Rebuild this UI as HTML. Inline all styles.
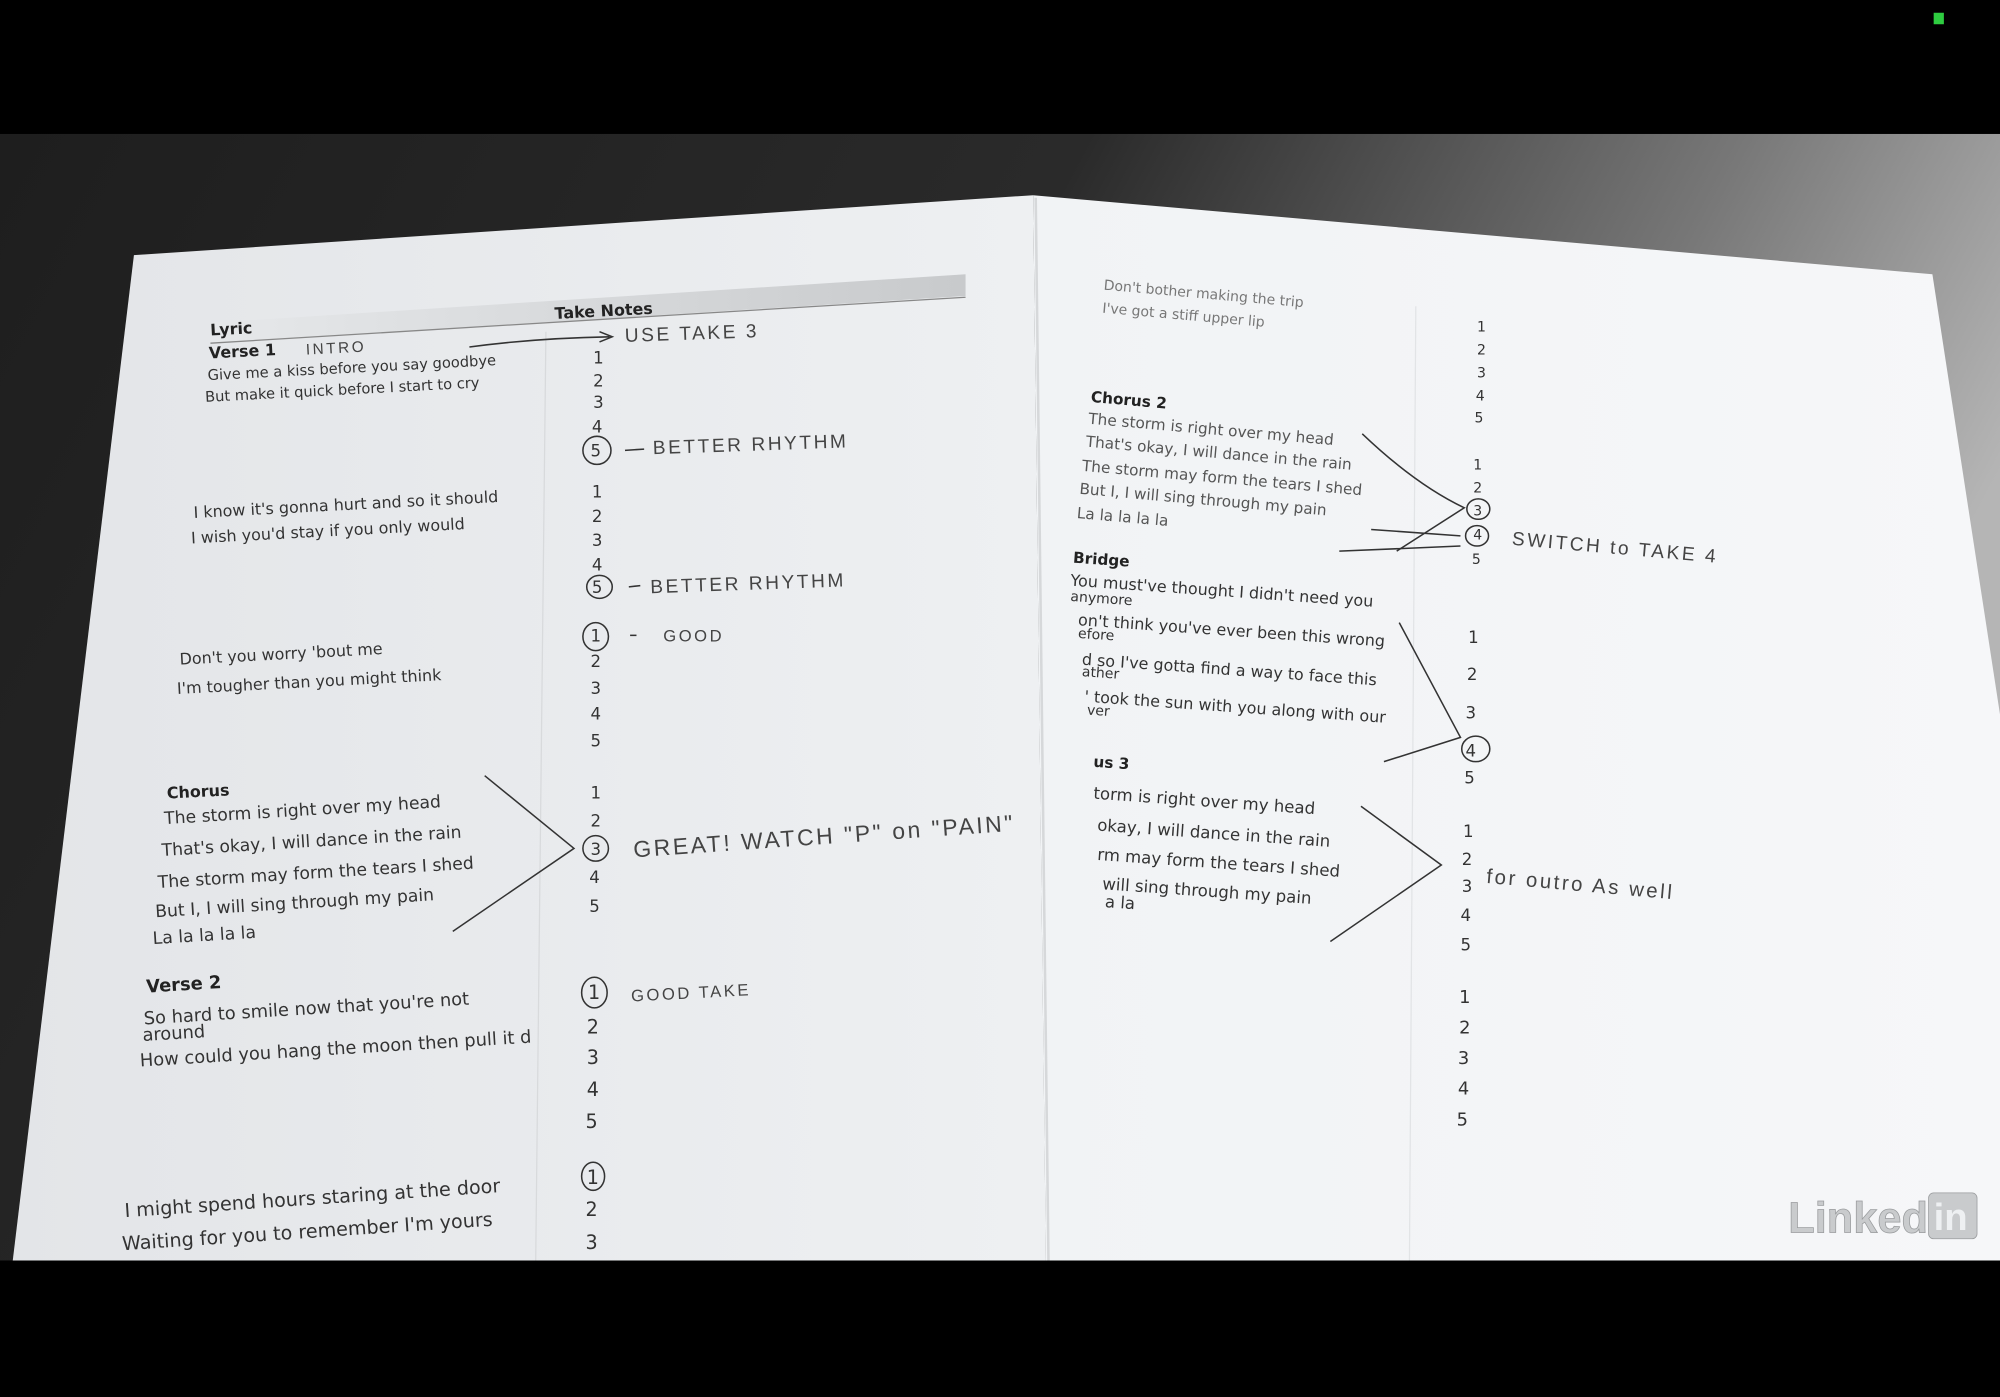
<!DOCTYPE html>
<html><head><meta charset="utf-8"><style>
html,body{margin:0;padding:0;background:#000;}
svg{display:block;}
.t{font-family:"DejaVu Sans","Liberation Sans",sans-serif;font-size:12.5px;fill:#333;}
.b{font-weight:bold;fill:#222;}
.n{font-family:"DejaVu Sans","Liberation Sans",sans-serif;font-size:13px;fill:#333;}
.h{font-family:"Liberation Sans",sans-serif;font-size:15px;fill:#444;letter-spacing:2px;}
.hl{fill:none;stroke:#333;stroke-width:1.2;}
</style></head><body>
<svg width="2000" height="1397" viewBox="0 0 1568 1095" preserveAspectRatio="none" xmlns="http://www.w3.org/2000/svg">
<defs>
<linearGradient id="desk" x1="0" y1="0" x2="1" y2="0.3">
<stop offset="0" stop-color="#1e1e1e"/><stop offset="0.5" stop-color="#2a2a2a"/><stop offset="0.8" stop-color="#777"/><stop offset="1" stop-color="#b5b5b5"/>
</linearGradient>
<linearGradient id="lp" x1="0" y1="0" x2="1" y2="0">
<stop offset="0" stop-color="#e3e5e8"/><stop offset="1" stop-color="#eef0f2"/>
</linearGradient>
<linearGradient id="rp" x1="0" y1="0" x2="1" y2="0">
<stop offset="0" stop-color="#f1f3f5"/><stop offset="1" stop-color="#f6f7f9"/>
</linearGradient>
<linearGradient id="hdr" x1="0" y1="0" x2="1" y2="0">
<stop offset="0" stop-color="#e6e8ea"/><stop offset="1" stop-color="#c8cacc"/>
</linearGradient>
</defs>
<rect width="1568" height="1095" fill="#000"/>
<rect y="105" width="1568" height="883" fill="url(#desk)"/>
<polygon points="105,200 810,153 820,988 10,988" fill="url(#lp)"/>
<polygon points="810,153 1515,215 1568,560 1568,988 820,988" fill="url(#rp)"/>
<line x1="812" y1="155" x2="822" y2="988" stroke="#d6d8da" stroke-width="2"/>
<polygon points="165,253 757,215 757,232 165,269" fill="url(#hdr)"/>
<line x1="165" y1="269" x2="757" y2="233" stroke="#888" stroke-width="1"/>
<text class="t b" x="165" y="263" font-size="11" transform="rotate(-3 165 263)">Lyric</text>
<text class="t b" x="435" y="250" font-size="12" transform="rotate(-3 435 250)">Take  Notes</text>
<line x1="428" y1="260" x2="420" y2="988" stroke="#d8dadc" stroke-width="1"/>
<line x1="1110" y1="240" x2="1105" y2="988" stroke="#e2e4e6" stroke-width="1"/>
<g class="t">
<text class="b" x="164" y="281" transform="rotate(-3 164 281)">Verse 1</text>
<text x="163" y="298" font-size="11.5" transform="rotate(-3 163 298)">Give me a kiss before you say goodbye</text>
<text x="161" y="315" font-size="11.5" transform="rotate(-3 161 315)">But make it quick before I start to cry</text>
<text x="152" y="406" transform="rotate(-3 152 406)">I know it's gonna hurt and so it should</text>
<text x="150" y="426" transform="rotate(-3 150 426)">I wish you'd stay if you only would</text>
<text x="141" y="521" transform="rotate(-3 141 521)">Don't you worry 'bout me</text>
<text x="139" y="544" transform="rotate(-3 139 544)">I'm tougher than you might think</text>
<text class="b" x="131" y="626" transform="rotate(-3 131 626)">Chorus</text>
<text x="129" y="646" font-size="13.5" transform="rotate(-3.5 129 646)">The storm is right over my head</text>
<text x="127" y="671" font-size="13.5" transform="rotate(-3.5 127 671)">That's okay, I will dance in the rain</text>
<text x="124" y="696" font-size="13.5" transform="rotate(-3.5 124 696)">The storm may form the tears I shed</text>
<text x="122" y="719" font-size="13.5" transform="rotate(-3.5 122 719)">But I, I will sing through my pain</text>
<text x="120" y="740" font-size="13.5" transform="rotate(-3.5 120 740)">La la la la la</text>
<text class="b" x="115" y="778" font-size="14" transform="rotate(-3.5 115 778)">Verse 2</text>
<text x="113" y="803" font-size="14" transform="rotate(-3.5 113 803)">So hard to smile now that you're not</text>
<text x="112" y="816" font-size="14" transform="rotate(-3.5 112 816)">around</text>
<text x="110" y="836" font-size="14" transform="rotate(-3.5 110 836)">How could you hang the moon then pull it d</text>
<text x="98" y="954" font-size="15" transform="rotate(-3.8 98 954)">I might spend hours staring at the door</text>
<text x="96" y="980" font-size="15" transform="rotate(-3.8 96 980)">Waiting for you to remember I'm yours</text>
</g>
<g class="n">
<text x="465" y="285">1</text><text x="465" y="303">2</text><text x="465" y="320">3</text><text x="464" y="339">4</text><text x="463" y="358">5</text>
<text x="464" y="390">1</text><text x="464" y="409">2</text><text x="464" y="428">3</text><text x="464" y="447">4</text><text x="464" y="465">5</text>
<text x="463" y="503">1</text><text x="463" y="523">2</text><text x="463" y="544">3</text><text x="463" y="564">4</text><text x="463" y="585">5</text>
<text x="463" y="626">1</text><text x="463" y="648">2</text><text x="463" y="670">3</text><text x="462" y="692">4</text><text x="462" y="715">5</text>
<text x="461" y="783" font-size="15">1</text><text x="460" y="810" font-size="15">2</text><text x="460" y="834" font-size="15">3</text><text x="460" y="859" font-size="15">4</text><text x="459" y="884" font-size="15">5</text>
<text x="460" y="928" font-size="15">1</text><text x="459" y="953" font-size="15">2</text><text x="459" y="979" font-size="15">3</text>
</g>
<g class="hl">
<ellipse cx="468" cy="353" rx="11" ry="11"/>
<ellipse cx="470" cy="460" rx="10" ry="9"/>
<ellipse cx="467" cy="499" rx="10" ry="11"/>
<ellipse cx="467" cy="665" rx="10" ry="10"/>
<ellipse cx="466" cy="778" rx="10" ry="12"/>
<ellipse cx="465" cy="922" rx="9" ry="11"/>
<path d="M368,272 Q420,265 478,264"/><path d="M470,260 L480,264 L470,268"/>
<path d="M380,608 L450,665 L355,730"/>
<path d="M490,353 L505,352"/><path d="M493,460 L502,459"/><path d="M494,498 L499,498"/>
</g>
<g class="h">
<text x="240" y="278" font-size="12" transform="rotate(-3 240 278)">INTRO</text>
<text x="490" y="268" transform="rotate(-2 490 268)">USE TAKE 3</text>
<text x="512" y="356" transform="rotate(-2 512 356)">BETTER RHYTHM</text>
<text x="510" y="465" transform="rotate(-2 510 465)">BETTER RHYTHM</text>
<text x="520" y="503" font-size="13">GOOD</text>
<text x="497" y="672" font-size="18" transform="rotate(-4 497 672)">GREAT! WATCH "P" on "PAIN"</text>
<text x="495" y="785" font-size="13" transform="rotate(-3 495 785)">GOOD TAKE</text>
</g>
<g class="t">
<text x="865" y="227" font-size="11" fill="#777" transform="rotate(5 865 227)">Don't bother making the trip</text>
<text x="864" y="245" font-size="11" fill="#777" transform="rotate(5 864 245)">I've got a stiff upper lip</text>
<text class="b" x="855" y="315" font-size="12" transform="rotate(5 855 315)">Chorus 2</text>
<text x="853" y="332" font-size="12" fill="#555" transform="rotate(5 853 332)">The storm is right over my head</text>
<text x="851" y="350" font-size="12" fill="#555" transform="rotate(5 851 350)">That's okay, I will dance in the rain</text>
<text x="848" y="369" font-size="12" fill="#555" transform="rotate(5 848 369)">The storm may form the tears I shed</text>
<text x="846" y="387" font-size="12" fill="#555" transform="rotate(5 846 387)">But I, I will sing through my pain</text>
<text x="844" y="406" font-size="12" fill="#555" transform="rotate(5 844 406)">La la la la la</text>
<text class="b" x="841" y="441" font-size="12" transform="rotate(4 841 441)">Bridge</text>
<text x="839" y="459" font-size="12.5" transform="rotate(4 839 459)">You must've thought I didn't need you</text>
<text x="839" y="471" font-size="11" transform="rotate(4 839 471)">anymore</text>
<text x="845" y="490" font-size="12.5" transform="rotate(4 845 490)">on't think you've ever been this wrong</text>
<text x="845" y="500" font-size="11" transform="rotate(4 845 500)">efore</text>
<text x="848" y="521" font-size="12.5" transform="rotate(4 848 521)">d so I've gotta find a way to face this</text>
<text x="848" y="530" font-size="11" transform="rotate(4 848 530)">ather</text>
<text x="850" y="550" font-size="12.5" transform="rotate(4 850 550)">' took the sun with you along with our</text>
<text x="852" y="560" font-size="11" transform="rotate(4 852 560)">ver</text>
<text class="b" x="857" y="601" font-size="12" transform="rotate(4 857 601)">us 3</text>
<text x="857" y="626" font-size="13" transform="rotate(4 857 626)">torm is right over my head</text>
<text x="860" y="651" font-size="13" transform="rotate(4 860 651)">okay, I will dance in the rain</text>
<text x="860" y="674" font-size="13" transform="rotate(4 860 674)">rm may form the tears I shed</text>
<text x="864" y="697" font-size="13" transform="rotate(4 864 697)">will sing through my pain</text>
<text x="866" y="711" font-size="13" transform="rotate(4 866 711)">a la</text>
</g>
<g class="n" fill="#888">
<text x="1158" y="260" font-size="11">1</text><text x="1158" y="278" font-size="11">2</text><text x="1158" y="296" font-size="11">3</text><text x="1157" y="314" font-size="11">4</text><text x="1156" y="331" font-size="11">5</text>
<text x="1155" y="368" font-size="11">1</text><text x="1155" y="386" font-size="11">2</text><text x="1155" y="404" font-size="11">3</text><text x="1155" y="423" font-size="11">4</text><text x="1154" y="442" font-size="11">5</text>
</g>
<g class="n" fill="#444">
<text x="1151" y="504">1</text><text x="1150" y="533">2</text><text x="1149" y="563">3</text><text x="1149" y="593">4</text><text x="1148" y="614">5</text>
<text x="1147" y="656">1</text><text x="1146" y="678">2</text><text x="1146" y="699">3</text><text x="1145" y="722">4</text><text x="1145" y="745">5</text>
<text x="1144" y="786" font-size="14">1</text><text x="1144" y="810" font-size="14">2</text><text x="1143" y="834" font-size="14">3</text><text x="1143" y="858" font-size="14">4</text><text x="1142" y="882" font-size="14">5</text>
</g>
<g class="hl" stroke="#555">
<ellipse cx="1159" cy="399" rx="9" ry="8"/>
<ellipse cx="1158" cy="420" rx="9" ry="8"/>
<ellipse cx="1157" cy="587" rx="11" ry="10"/>
<path d="M1068,340 Q1110,380 1148,398 L1095,432"/>
<path d="M1050,432 Q1100,430 1145,428"/><path d="M1075,415 L1145,420"/>
<path d="M1097,488 L1145,578 L1085,597"/>
<path d="M1067,632 L1130,678 L1043,738"/>
</g>
<g class="h" fill="#555">
<text x="1185" y="427" transform="rotate(5 1185 427)">SWITCH to TAKE 4</text>
<text x="1165" y="692" font-size="16" transform="rotate(5 1165 692)">for outro As well</text>
</g>
<text x="1402" y="966" font-family="Liberation Sans,sans-serif" font-weight="bold" font-size="34" fill="#c9cbcd" stroke="#9a9c9e" stroke-width="0.6">Linked</text>
<rect x="1512" y="935" width="38" height="36" rx="4" fill="#c9cbcd" stroke="#9a9c9e" stroke-width="0.6"/>
<text x="1516" y="964" font-family="Liberation Sans,sans-serif" font-weight="bold" font-size="30" fill="#eef0f2">in</text>
<rect x="1516" y="10" width="8" height="9" fill="#2ecc40"/>
</svg>
</body></html>
